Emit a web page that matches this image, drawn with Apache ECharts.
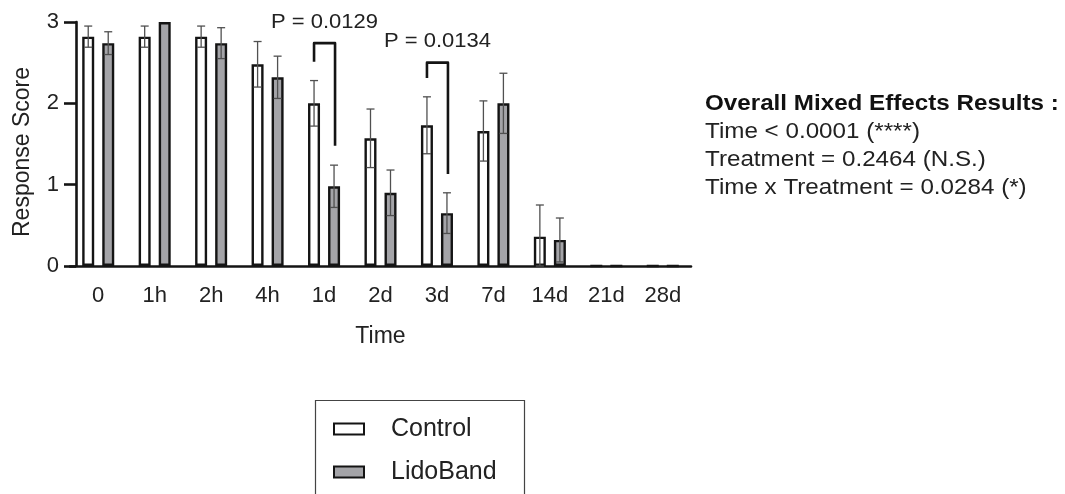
<!DOCTYPE html>
<html>
<head>
<meta charset="utf-8">
<script src="https://cdn.jsdelivr.net/npm/echarts@6/dist/echarts.min.js"></script>
<style>
html,body{margin:0;padding:0;background:#fff;}
#chart{width:1065px;height:494px;}
</style>
</head>
<body>
<div id="chart"></div>
<script>
const categories = ['0', '1h', '2h', '4h', '1d', '2d', '3d', '7d', '14d', '21d', '28d'];
const controlMean = [2.82, 2.82, 2.82, 2.48, 2.0, 1.57, 1.73, 1.66, 0.36, 0, 0];
const controlErr  = [0.13, 0.13, 0.13, 0.28, 0.28, 0.36, 0.35, 0.37, 0.39, 0, 0];
const lidoMean    = [2.74, 3.0, 2.74, 2.32, 0.98, 0.90, 0.65, 2.0, 0.32, 0, 0];
const lidoErr     = [0.14, 0, 0.19, 0.26, 0.26, 0.28, 0.25, 0.37, 0.27, 0, 0];
const yTicks = [0, 1, 2, 3];

const bracketCats     = ['1d', '3d'];
const bracketTop      = [2.74, 2.50];
const bracketLeftEnd  = [2.51, 2.31];
const bracketRightEnd = [1.48, 1.13];
const pLabelY         = [3.0, 2.76];
const pLabels         = ['P = 0.0129', 'P = 0.0134'];

const statsTitle = 'Overall Mixed Effects Results :';
const statsLines = ['Time < 0.0001 (****)', 'Treatment = 0.2464 (N.S.)', 'Time x Treatment = 0.0284 (*)'];

const FONT = "'Liberation Sans', Arial, sans-serif";
const INK = '#141414';

function errRender(offset) {
  return function (params, api) {
    const i = api.value(0), m = api.value(1), e = api.value(2);
    if (!e) return null;
    const hi = api.coord([i, m + e]);
    const lo = api.coord([i, Math.max(0, m - e)]);
    const x = hi[0] + offset;
    const st = { stroke: '#505050', lineWidth: 1.3 };
    return {
      type: 'group',
      children: [
        { type: 'line', shape: { x1: x, y1: lo[1], x2: x, y2: hi[1] }, style: st },
        { type: 'line', shape: { x1: x - 4, y1: hi[1], x2: x + 4, y2: hi[1] }, style: st },
        { type: 'line', shape: { x1: x - 4, y1: lo[1], x2: x + 4, y2: lo[1] }, style: st }
      ]
    };
  };
}

function bracketRender(params, api) {
  const i = api.value(0);
  const top = api.coord([i, api.value(1)]);
  const le = api.coord([i, api.value(2)]);
  const re = api.coord([i, api.value(3)]);
  const ty = api.coord([i, api.value(4)]);
  const x0 = top[0] - 10, x1 = top[0] + 11;
  return {
    type: 'group',
    children: [
      {
        type: 'polyline',
        shape: { points: [[x0, le[1]], [x0, top[1]], [x1, top[1]], [x1, re[1]]] },
        style: { stroke: INK, lineWidth: 2.6, fill: null, lineJoin: 'round' }
      },
      {
        type: 'text',
        x: (x0 + x1) / 2, y: ty[1], scaleX: 1.1,
        style: {
          x: 0, y: 0, text: pLabels[params.dataIndex], align: 'center', verticalAlign: 'middle',
          fontSize: 20, fontFamily: FONT, fill: '#222'
        }
      }
    ]
  };
}

const chart = echarts.init(document.getElementById('chart'), null, { renderer: 'canvas' });

chart.setOption({
  animation: false,
  backgroundColor: '#fff',
  textStyle: { fontFamily: FONT },
  grid: { left: 70, right: 374, top: 22, bottom: 228, containLabel: false },
  legend: {
    orient: 'vertical',
    left: 333,
    top: 416,
    icon: 'rect',
    itemWidth: 30,
    itemHeight: 11,
    itemGap: 17,
    padding: 0,
    data: ['Control', 'LidoBand'],
    itemStyle: { borderColor: INK, borderWidth: 2 },
    textStyle: { fontSize: 25, lineHeight: 26, color: '#222', fontFamily: FONT, padding: [0, 0, 0, 22] }
  },
  xAxis: {
    type: 'category',
    data: categories,
    axisLine: { lineStyle: { color: INK, width: 2.6 } },
    axisTick: { alignWithLabel: true, length: 12, lineStyle: { color: INK, width: 2.6 } },
    axisLabel: { fontSize: 22, color: '#222', margin: 19, fontFamily: FONT },
    name: 'Time',
    nameLocation: 'middle',
    nameGap: 59,
    nameTextStyle: { fontSize: 23, color: '#222', fontFamily: FONT }
  },
  yAxis: {
    type: 'value',
    min: yTicks[0],
    max: yTicks[yTicks.length - 1],
    interval: 1,
    offset: -6,
    axisLine: { show: true, lineStyle: { color: INK, width: 2.6 } },
    axisTick: { show: true, length: 12, lineStyle: { color: INK, width: 2.6 } },
    axisLabel: { fontSize: 22, color: '#222', margin: 17, fontFamily: FONT },
    splitLine: { show: false },
    name: 'Response Score',
    nameLocation: 'middle',
    nameGap: 42,
    nameTextStyle: { fontSize: 23, color: '#222', fontFamily: FONT, padding: [0, 16, 0, 0] }
  },
  series: [
    {
      name: 'Control', type: 'bar', data: controlMean,
      barWidth: 12, barGap: '67%',
      itemStyle: { color: '#ffffff', borderColor: INK, borderWidth: 2.4 },
      z: 2
    },
    {
      name: 'LidoBand', type: 'bar', data: lidoMean,
      barWidth: 12, barGap: '67%',
      itemStyle: { color: '#a4a4a8', borderColor: INK, borderWidth: 2.4 },
      z: 2
    },
    {
      type: 'custom', name: 'ControlErr', renderItem: errRender(-10), clip: false, z: 5,
      data: categories.map((c, i) => [i, controlMean[i], controlErr[i]]),
      encode: { x: 0, y: 1 }, silent: true
    },
    {
      type: 'custom', name: 'LidoErr', renderItem: errRender(10), clip: false, z: 5,
      data: categories.map((c, i) => [i, lidoMean[i], lidoErr[i]]),
      encode: { x: 0, y: 1 }, silent: true
    },
    {
      type: 'custom', name: 'Brackets', renderItem: bracketRender, clip: false, z: 6,
      data: bracketCats.map((c, k) => [categories.indexOf(c), bracketTop[k], bracketLeftEnd[k], bracketRightEnd[k], pLabelY[k]]),
      encode: { x: 0, y: 1 }, silent: true
    }
  ],
  graphic: [
    {
      type: 'rect', left: 313, top: 398, silent: true,
      shape: { width: 209, height: 140 },
      style: { fill: null, stroke: '#444', lineWidth: 1.2 }
    },
    {
      type: 'text', x: 705, y: 90, scaleX: 1.1, silent: true,
      style: {
        x: 0, y: 0,
        text: '{b|' + statsTitle + '}\n' + statsLines.join('\n'),
        fontSize: 22, lineHeight: 28, fontFamily: FONT, fill: '#222',
        rich: { b: { fontSize: 22, lineHeight: 28, fontWeight: 'bold', fontFamily: FONT, fill: '#111' } }
      }
    }
  ]
});
</script>
</body>
</html>
